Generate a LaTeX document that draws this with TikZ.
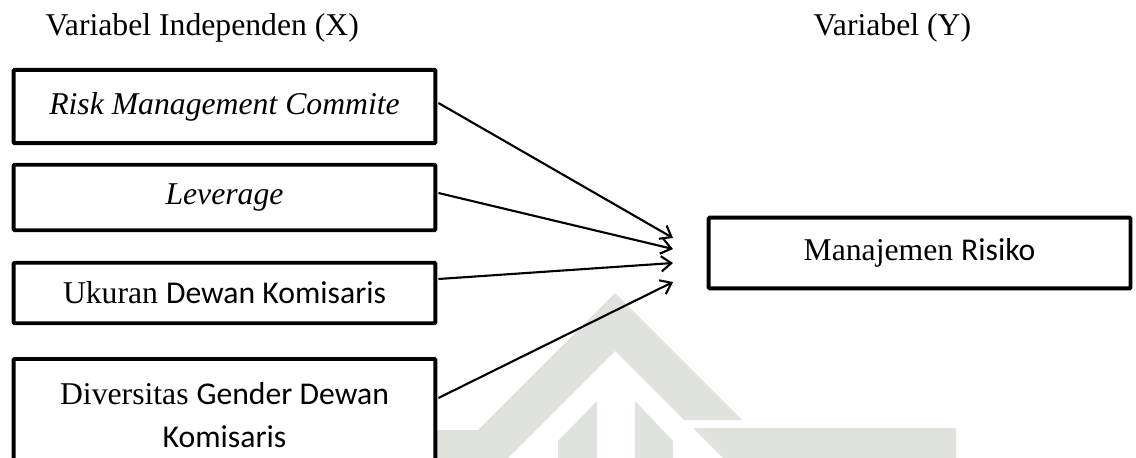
\documentclass[tikz,border=0pt]{standalone}
\usepackage{fontspec}
\setmainfont{Liberation Serif}
\newfontfamily\calibri{Carlito}
\usetikzlibrary{arrows.meta,calc}
\definecolor{wmgray}{RGB}{224,226,221}
\begin{document}
\begin{tikzpicture}[x=0.3785pt,y=-0.3785pt,
  varbox/.style={draw,line width=1.5pt,fill=white,inner sep=0pt,
    minimum width=159.7pt,align=center,rounded corners=0.4pt,
    font=\fontsize{12}{16.3}\selectfont},
  link/.style={line width=0.8pt,-{Straight Barb[length=3.8pt,width=5.8pt]}},
  heading/.style={anchor=base west,inner sep=0pt,font=\fontsize{12}{14}\selectfont}]
\useasboundingbox (0,0) rectangle (1136,458);
\clip (0,0) rectangle (1136,458);

% faint logo in the background
\fill[wmgray] (615,293) -- (742,420) -- (684,420) -- (615,351) -- (496,470)
  -- (420,470) -- (420,430) -- (478,430) -- cycle;
\fill[wmgray] (693,428) -- (956,428) -- (956,470) -- (735,470) -- cycle;
\fill[wmgray] (597,401) -- (597,470) -- (558,470) -- (558,441) -- cycle;
\fill[wmgray] (635,401) -- (673,441) -- (673,470) -- (635,470) -- cycle;

% headings
\node[heading] (hx) at (45,36) {Variabel Independen (X)};
\node[heading] (hy) at (813,36) {Variabel (Y)};

% independent variables
\node[varbox,minimum height=27.8pt] (b1) at (224.5,106.5) {\itshape Risk Management Commite};
\node[varbox,minimum height=24.8pt] (b2) at (224.5,197.5) {\itshape Leverage};
\node[varbox,minimum height=22.9pt] (b3) at (224.5,293) {Ukuran {\calibri Dewan Komisaris}};
\node[varbox,minimum height=42.4pt] (b4) at (224.5,415) {Diversitas {\calibri Gender Dewan}\\{\calibri Komisaris}};

% dependent variable
\node[varbox,minimum height=26.7pt] (y) at (919.5,253) {Manajemen {\calibri Risiko}};

% arrow tips
\coordinate (t1) at (673,238);
\coordinate (t2) at (673,249);
\coordinate (t3) at (673,263);
\coordinate (t4) at (673,282);

\draw[link] ($(b1.east)+(1,-3.5)$) -- (t1);
\draw[link] ($(b2.east)+(1,-4.5)$) -- (t2);
\draw[link] ($(b3.east)+(1,-14)$) -- (t3);
\draw[link] ($(b4.east)+(1,-17)$) -- (t4);
\end{tikzpicture}
\end{document}
